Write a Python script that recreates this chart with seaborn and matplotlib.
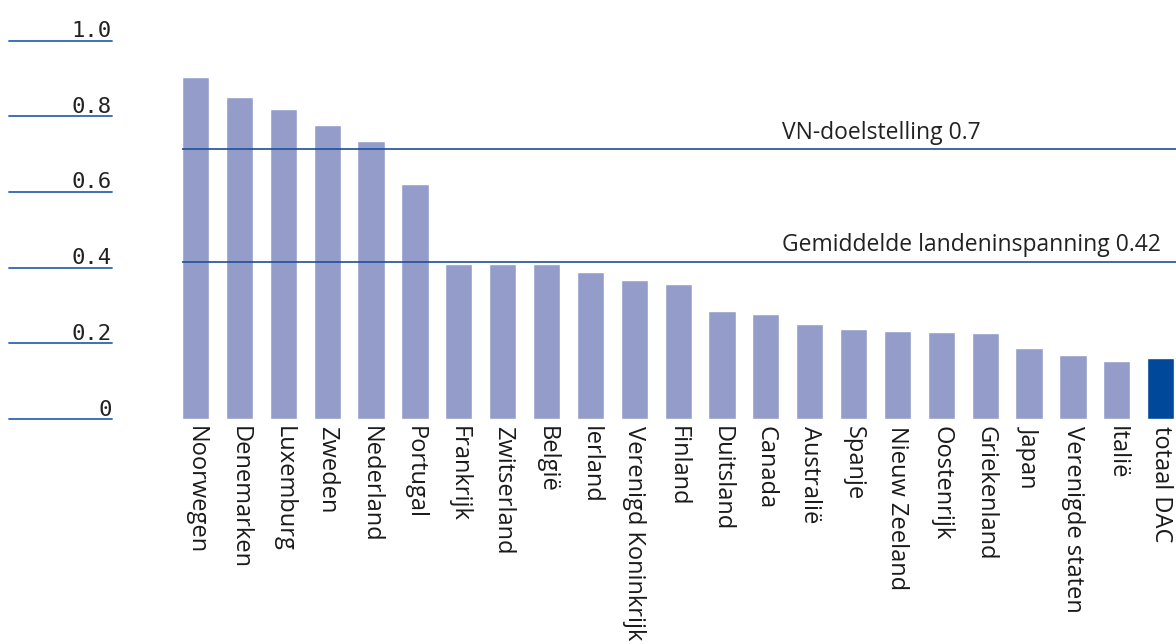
import matplotlib
matplotlib.use("Agg")
import matplotlib.pyplot as plt
import seaborn as sns
import pandas as pd

# ── Data ──────────────────────────────────────────────────────────────────────
landen = [
    "Noorwegen", "Denemarken", "Luxemburg", "Zweden", "Nederland", "Portugal",
    "Frankrijk", "Zwitserland", "België", "Ierland", "Verenigd Koninkrijk",
    "Finland", "Duitsland", "Canada", "Australië", "Spanje", "Nieuw Zeeland",
    "Oostenrijk", "Griekenland", "Japan", "Verenigde staten", "Italië",
    "totaal DAC",
]
waarden = [
    0.904, 0.851, 0.819, 0.777, 0.734, 0.621,
    0.410, 0.410, 0.410, 0.388, 0.367,
    0.357, 0.285, 0.277, 0.251, 0.238, 0.232,
    0.230, 0.227, 0.188, 0.169, 0.153,
    0.161,
]
yticks = [0, 0.2, 0.4, 0.6, 0.8, 1.0]
ytick_labels = ["0", "0.2", "0.4", "0.6", "0.8", "1.0"]

ref_waarden = [0.713, 0.416]
ref_labels = ["VN-doelstelling 0.7", "Gemiddelde landeninspanning 0.42"]

BAR = "#949dc9"
DAC = "#00489a"
LINE = "#1f4f99"
TICKLINE = "#2f66b0"

df = pd.DataFrame({"land": landen, "waarde": waarden})
kleuren = [DAC if l == "totaal DAC" else BAR for l in landen]

sns.set_theme(style="white")
plt.rcParams["font.family"] = ["Open Sans", "DejaVu Sans"]

W, H = 1176, 644
fig = plt.figure(figsize=(W / 100, H / 100), dpi=100)
ax_left, ax_right, ax_bot, ax_top = 182, 1176, 419, 40.5
ax = fig.add_axes([ax_left / W, 1 - ax_bot / H,
                   (ax_right - ax_left) / W, (ax_bot - ax_top) / H])

sns.barplot(data=df, x="land", y="waarde", hue="land", palette=kleuren,
            legend=False, width=0.62, saturation=1, ax=ax)

ax.set_xlim(-0.31, 22.35)
ax.set_ylim(0, 1.0)
ax.set_xlabel("")
ax.set_ylabel("")
for s in ax.spines.values():
    s.set_visible(False)

ax.set_xticks(range(len(landen)))
ax.set_xticklabels(landen, rotation=-90, ha="center", va="top",
                   fontsize=17, color="#1a1a1a")
ax.tick_params(axis="x", length=0, pad=5)
ax.set_yticks([])

# referentielijnen
for v, lab in zip(ref_waarden, ref_labels):
    ax.axhline(v, color=LINE, linewidth=1.2, zorder=3)
    ax.annotate(lab, xy=(0.6036, v), xycoords=("axes fraction", "data"),
                xytext=(0, 7.5), textcoords="offset points",
                ha="left", va="baseline", fontsize=16.5, color="#222222")

# y-as: labels met korte lijntjes links
tr = ax.get_yaxis_transform()
x0 = (9 - ax_left) / (ax_right - ax_left)
x1 = (112 - ax_left) / (ax_right - ax_left)
for v, lab in zip(yticks, ytick_labels):
    ax.plot([x0, x1], [v, v], transform=tr, color=TICKLINE, linewidth=1.3,
            clip_on=False)
    ax.annotate(lab, xy=(x1, v), xycoords=tr, xytext=(0, 2.5),
                textcoords="offset points", ha="right", va="baseline",
                fontsize=16, family="DejaVu Sans Mono", color="#222222",
                annotation_clip=False)

fig.savefig("out.png", dpi=100)
